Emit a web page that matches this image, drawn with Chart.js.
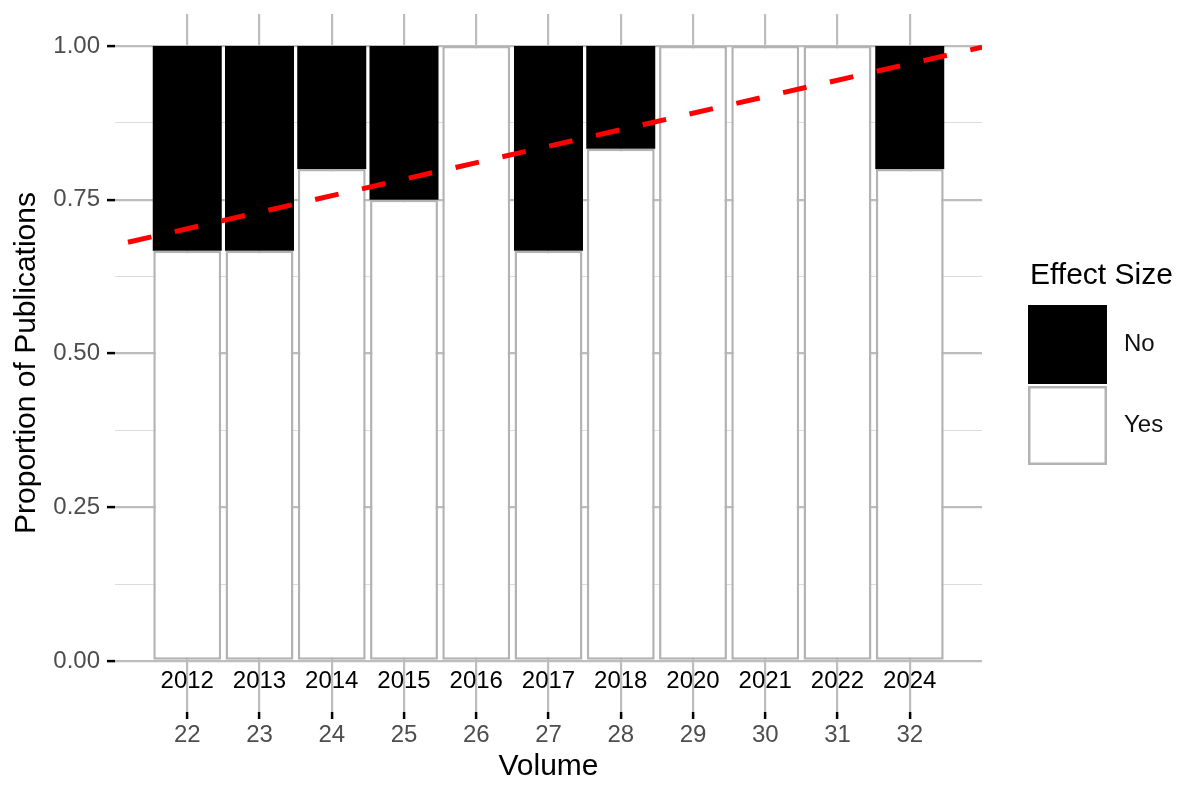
<!DOCTYPE html>
<html>
<head>
<meta charset="utf-8">
<script src="https://cdn.jsdelivr.net/npm/chart.js@4.4.1/dist/chart.umd.min.js"></script>
<style>
  html, body { margin: 0; padding: 0; background: #fff; }
  #wrap { width: 1181px; height: 785px; position: relative; }
</style>
</head>
<body>
<div id="wrap"><canvas id="effectChart"></canvas></div>
<script>
// volumes on the x axis, the year is printed above each one
var volumes = [22, 23, 24, 25, 26, 27, 28, 29, 30, 31, 32];
var years = ['2012', '2013', '2014', '2015', '2016', '2017', '2018', '2020', '2021', '2022', '2024'];

// share of publications reporting an effect size
var yesShare = [0.667, 0.667, 0.8, 0.75, 1, 0.667, 0.833, 1, 1, 1, 0.8];
var noShare  = [0.333, 0.333, 0.2, 0.25, 0, 0.333, 0.167, 0, 0, 0, 0.2];

// dashed trend line, ends read at the panel edges
var trendX = [21, 33];
var trendY = [0.676, 0.998];

// y breaks
var yBreaks = [0, 0.25, 0.5, 0.75, 1];
var yMinor = [0.125, 0.375, 0.625, 0.875];

var FONT = '"Liberation Sans", Arial, sans-serif';
Chart.defaults.font.family = FONT;

function isMajor(v) {
  return yBreaks.some(function(b) { return Math.abs(b - v) < 1e-9; });
}

function pts(xs, ys) {
  return xs.map(function(x, i) { return { x: x, y: ys[i] }; });
}

// keep the panel where ggplot put it
function noPad(s) {
  s.paddingTop = 0;
  s.paddingBottom = 0;
  s.paddingLeft = 0;
  s.paddingRight = 0;
}

/*----year labels + legend----*/
var extras = {
  id: 'extras',
  afterDatasetsDraw: function(chart) {
    var ctx = chart.ctx, xs = chart.scales.x, ys = chart.scales.y;
    ctx.save();
    ctx.font = '24px ' + FONT;
    ctx.fillStyle = '#000';
    ctx.textAlign = 'center';
    ctx.textBaseline = 'middle';
    var yy = ys.getPixelForValue(-0.033);
    volumes.forEach(function(v, i) {
      ctx.fillText(years[i], xs.getPixelForValue(v), yy);
    });
    ctx.restore();
  },
  afterDraw: function(chart) {
    var ctx = chart.ctx;
    var bars = chart.data.datasets.filter(function(d) { return d.type !== 'line'; }).reverse();
    ctx.save();
    ctx.textAlign = 'left';
    ctx.textBaseline = 'middle';
    ctx.fillStyle = '#000';
    ctx.font = '30px ' + FONT;
    ctx.fillText('Effect Size', 1030, 276);
    var lx = 1028, top0 = 305, w = 79, h = 79;
    bars.forEach(function(d, i) {
      var top = top0 + i * (h + 2);
      ctx.fillStyle = d.backgroundColor;
      ctx.fillRect(lx, top, w, h);
      if (d.borderWidth) {
        ctx.lineWidth = d.borderWidth;
        ctx.strokeStyle = d.borderColor;
        ctx.strokeRect(lx + d.borderWidth / 2, top + d.borderWidth / 2, w - d.borderWidth, h - d.borderWidth);
      }
      ctx.fillStyle = '#111';
      ctx.font = '24px ' + FONT;
      ctx.fillText(d.label, 1124, top + h / 2);
    });
    ctx.restore();
  }
};

var ctx = document.getElementById('effectChart');
var effectChart = new Chart(ctx, {
  type: 'bar',
  data: {
    datasets: [
      {
        type: 'line',
        label: 'Trend',
        data: pts(trendX, trendY),
        borderColor: '#ff0000',
        borderWidth: 5,
        borderDash: [24, 24],
        borderDashOffset: 34.7,
        borderCapStyle: 'butt',
        pointRadius: 0,
        fill: false,
        tension: 0,
        order: 0
      },
      {
        label: 'Yes',
        data: pts(volumes, yesShare),
        backgroundColor: '#ffffff',
        borderColor: '#b3b3b3',
        borderWidth: 2.5,
        borderSkipped: false,
        barPercentage: 0.94,
        categoryPercentage: 1,
        order: 1
      },
      {
        label: 'No',
        data: pts(volumes, noShare),
        backgroundColor: '#000000',
        borderColor: '#000000',
        borderWidth: 0,
        borderSkipped: false,
        barPercentage: 0.955,
        categoryPercentage: 1,
        order: 2
      }
    ]
  },
  options: {
    responsive: true,
    maintainAspectRatio: false,
    animation: false,
    layout: { padding: { top: 14, right: 199, left: 0, bottom: 0 } },
    scales: {
      x: {
        type: 'linear',
        min: 21,
        max: 33,
        offset: false,
        stacked: true,
        afterBuildTicks: function(s) { s.ticks = volumes.map(function(v) { return { value: v }; }); },
        afterFit: function(s) { s.height = 73; noPad(s); },
        border: { display: false },
        grid: {
          offset: false,
          color: '#bdbdbd',
          lineWidth: 2.2,
          tickColor: '#000',
          tickWidth: 2.5,
          tickLength: 7
        },
        ticks: {
          autoSkip: false,
          maxRotation: 0,
          padding: 2,
          color: '#4d4d4d',
          font: { size: 24 },
          callback: function(v) { return String(v); }
        },
        title: {
          display: true,
          text: 'Volume',
          color: '#000',
          font: { size: 30 },
          padding: { top: 0, bottom: 0 }
        }
      },
      y: {
        type: 'linear',
        stacked: true,
        min: -0.083,
        max: 1.052,
        afterBuildTicks: function(s) {
          s.ticks = yBreaks.concat(yMinor).sort(function(a, b) { return a - b; })
            .map(function(v) { return { value: v }; });
        },
        afterFit: function(s) { s.width = 115; noPad(s); },
        border: { display: false },
        grid: {
          color: function(c) { return isMajor(c.tick.value) ? '#bdbdbd' : '#dcdcdc'; },
          lineWidth: function(c) { return isMajor(c.tick.value) ? 2.2 : 1.1; },
          tickColor: function(c) { return isMajor(c.tick.value) ? '#000' : 'rgba(0,0,0,0)'; },
          tickWidth: 2.5,
          tickLength: 8
        },
        ticks: {
          autoSkip: false,
          padding: 7,
          color: '#4d4d4d',
          font: { size: 24 },
          callback: function(v) { return isMajor(v) ? v.toFixed(2) : ''; }
        },
        title: {
          display: true,
          text: 'Proportion of Publications',
          color: '#000',
          font: { size: 30 },
          padding: { top: 9, bottom: 0 }
        }
      }
    },
    plugins: {
      legend: { display: false },
      tooltip: { enabled: false }
    }
  },
  plugins: [extras]
});
</script>
</body>
</html>
